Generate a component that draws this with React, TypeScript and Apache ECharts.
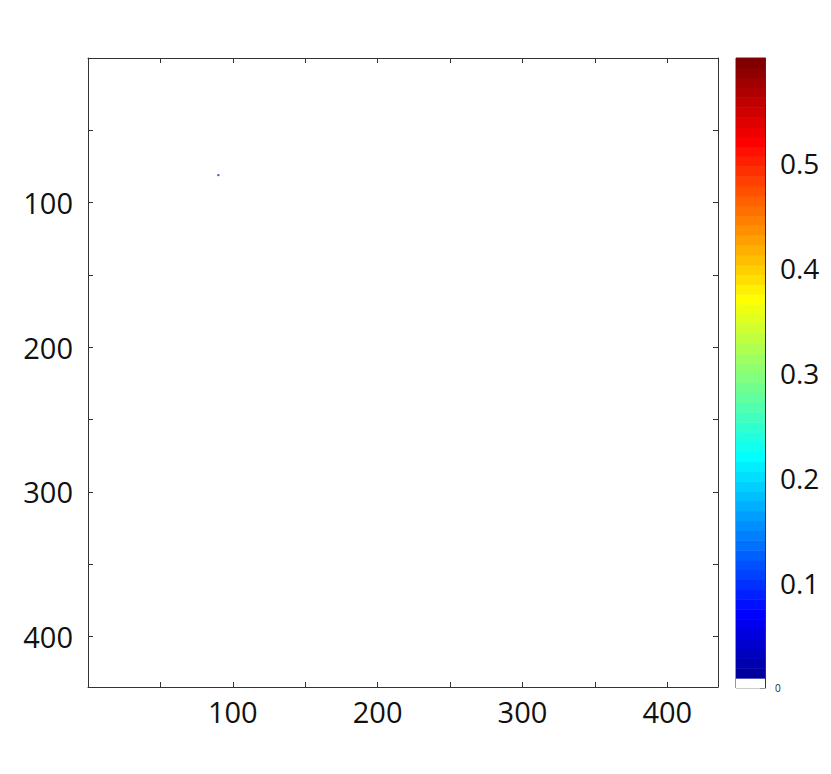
import React, { useEffect, useRef } from "react";
import * as echarts from "echarts";

// Image extent (pixels) and non-zero samples of the map [x, y, value]
const axisMax = 435;
const axisTickStep = 50;
const labelStep = 100;
const pointsX = [90];
const pointsY = [81];
const pointsV = [0.015];

// Colorbar
const cbarMax = 0.6;
const cbarStep = 0.1;
const cbarLevels = 64;

function jetColors(m: number): string[] {
  const n = Math.ceil(m / 4);
  const u: number[] = [];
  for (let k = 1; k <= n; k++) u.push(k / n);
  for (let k = 0; k < n - 1; k++) u.push(1);
  for (let k = n; k >= 1; k--) u.push(k / n);
  const r = new Array(m).fill(0), g = new Array(m).fill(0), b = new Array(m).fill(0);
  const off = Math.ceil(n / 2) - (m % 4 === 1 ? 1 : 0);
  for (let j = 0; j < u.length; j++) {
    const gi = off + j;
    const ri = gi + n;
    const bi = gi - n;
    if (gi >= 0 && gi < m) g[gi] = u[j];
    if (ri >= 0 && ri < m) r[ri] = u[j];
    if (bi >= 0 && bi < m) b[bi] = u[j];
  }
  const out: string[] = [];
  for (let i = 0; i < m; i++) {
    out.push(`rgb(${Math.round(r[i] * 255)},${Math.round(g[i] * 255)},${Math.round(b[i] * 255)})`);
  }
  out[0] = "#ffffff";
  return out;
}

const palette = jetColors(cbarLevels);
const colorFor = (v: number) => {
  const idx = Math.min(cbarLevels - 1, Math.max(0, Math.floor((v / cbarMax) * cbarLevels)));
  return palette[idx];
};

const FONT = "Open Sans";

export default function App() {
  const ref = useRef<HTMLDivElement>(null);
  useEffect(() => {
    if (!ref.current) return;
    const chart = echarts.init(ref.current, undefined, { renderer: "svg" });
    const levelData = palette.map((_, i) => [i * (cbarMax / cbarLevels), (i + 1) * (cbarMax / cbarLevels), i]);
    const lineStyle = { color: "#333", width: 1 };
    const axisLine = { show: true, onZero: false, lineStyle };
    const tick = { show: true, inside: true, length: 5, lineStyle };
    const hundreds = (v: number) => (v > 0 && v % labelStep === 0 ? String(v) : "");
    const option: any = {
      animation: false,
      backgroundColor: "#fff",
      textStyle: { fontFamily: FONT },
      grid: [
        { left: 88, top: 58, width: 630, height: 629, show: false },
        { left: 736, top: 58, width: 29, height: 630, show: true, borderColor: "#333", borderWidth: 1 },
      ],
      xAxis: [
        {
          type: "value", gridIndex: 0, min: 0, max: axisMax, interval: axisTickStep,
          axisLine, splitLine: { show: false }, axisTick: tick,
          axisLabel: { formatter: hundreds, fontSize: 29, color: "#111", margin: 10, fontFamily: FONT, showMaxLabel: false },
        },
        {
          type: "value", gridIndex: 0, position: "top", min: 0, max: axisMax, interval: axisTickStep,
          axisLine, splitLine: { show: false }, axisTick: tick,
          axisLabel: { show: false },
        },
        { type: "value", gridIndex: 1, min: 0, max: 1, show: false },
      ],
      yAxis: [
        {
          type: "value", gridIndex: 0, min: 0, max: axisMax, interval: axisTickStep, inverse: true,
          axisLine, splitLine: { show: false }, axisTick: tick,
          axisLabel: { formatter: hundreds, fontSize: 29, color: "#111", margin: 15, fontFamily: FONT, showMaxLabel: false },
        },
        {
          type: "value", gridIndex: 0, position: "right", min: 0, max: axisMax, interval: axisTickStep, inverse: true,
          axisLine, splitLine: { show: false }, axisTick: tick,
          axisLabel: { show: false },
        },
        {
          type: "value", gridIndex: 1, position: "right", min: 0, max: cbarMax, interval: cbarStep,
          axisLine, splitLine: { show: false }, axisTick: tick,
          axisLabel: {
            margin: 15, color: "#111", fontFamily: FONT, fontSize: 28,
            formatter: (v: number) => {
              const r = Math.round(v * 10) / 10;
              if (r === 0) return "{s|0}";
              if (r >= cbarMax) return "";
              return r.toFixed(1);
            },
            rich: { s: { fontSize: 10, color: "#222", fontFamily: FONT, padding: [0, 0, 0, -5] } },
          },
        },
      ],
      series: [
        {
          type: "scatter", xAxisIndex: 0, yAxisIndex: 0,
          symbol: "rect", symbolSize: 2,
          data: pointsX.map((x, i) => ({ value: [x, pointsY[i], pointsV[i]], itemStyle: { color: colorFor(pointsV[i]), opacity: 0.7 } })),
          silent: true,
        },
        {
          type: "custom", xAxisIndex: 2, yAxisIndex: 2,
          data: levelData,
          silent: true,
          renderItem: (params: any, api: any) => {
            const lo = api.value(0), hi = api.value(1), ci = api.value(2);
            const p1 = api.coord([0, hi]);
            const p2 = api.coord([1, lo]);
            return {
              type: "rect",
              shape: { x: p1[0], y: p1[1], width: p2[0] - p1[0], height: p2[1] - p1[1] + 0.5 },
              style: { fill: palette[ci], stroke: null },
            };
          },
          z: 1,
        },
      ],
    };
    chart.setOption(option);
    return () => chart.dispose();
  }, []);
  return <div ref={ref} style={{ position: "fixed", left: 0, top: 0, width: 831, height: 774 }} />;
}
